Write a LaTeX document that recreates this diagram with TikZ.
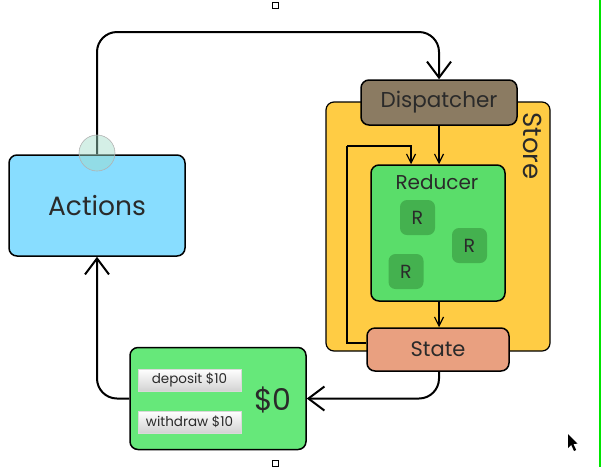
\documentclass[tikz,border=0pt]{standalone}
\usepackage{fontspec}
\setmainfont{Poppins}
\usetikzlibrary{arrows.meta}
\definecolor{actblue}{HTML}{88DDFF}
\definecolor{storeyel}{HTML}{FFCC44}
\definecolor{redgreen}{HTML}{5ADD6A}
\definecolor{rgreen}{HTML}{44B14F}
\definecolor{statesal}{HTML}{E9A080}
\definecolor{dispbrown}{HTML}{8B7B62}
\definecolor{moneygreen}{HTML}{66E87A}
\definecolor{txt}{HTML}{2A2A2A}
\begin{document}
\begin{tikzpicture}[x=1pt,y=-1pt,
  box/.style={draw=black,line width=1.5pt,rounded corners=8pt,inner sep=0pt,text=txt},
  rbox/.style={fill=rgreen,rounded corners=7pt,minimum width=35pt,minimum height=35pt,inner sep=0pt,font=\fontsize{19}{19}\selectfont,text=txt},
  btn/.style={draw=gray!30,top color=white,bottom color=gray!35,minimum width=103pt,minimum height=22pt,inner sep=0pt,font=\fontsize{13.5}{14}\selectfont,text=txt},
  big/.style={line width=2pt,-{Straight Barb[length=16pt,width=24pt,line width=2pt]}},
  small/.style={line width=1.2pt,-{Straight Barb[length=9pt,width=9pt,line width=1.2pt]}}]
\useasboundingbox (0,0) rectangle (601,467);
% decorations of the screen capture
\draw[line width=1pt] (272,2) rectangle (278,8);
\draw[line width=1pt] (272,460) rectangle (278,466);
\draw[green!90!black,line width=2pt] (599.5,0) -- (599.5,467);
\fill[black] (568,434) -- (568,448) -- (571.2,444.8) -- (574,451) -- (576.2,450) -- (573.4,444) -- (577.6,443.6) -- cycle;
% store
\node[box,line width=1.2pt,fill=storeyel,minimum width=224pt,minimum height=249pt] (store) at (438,226.5) {};
\node[text=txt,rotate=-90,font=\fontsize{26}{26}\selectfont] (storelbl) at (533,146) {Store};
% nodes
\node[box,fill=actblue,minimum width=176pt,minimum height=101pt,font=\fontsize{26.5}{26}\selectfont] (actions) at (97,205.5) {Actions};
\node[box,fill=dispbrown,minimum width=156pt,minimum height=45pt,font=\fontsize{21.5}{21}\selectfont] (disp) at (439,102.5) {Dispatcher};
\node[box,fill=redgreen,minimum width=134pt,minimum height=136pt] (reducer) at (438,233) {};
\node[text=txt,font=\fontsize{20}{20}\selectfont] (redlbl) at (437,182) {Reducer};
\node[rbox] (r1) at (417.5,217.5) {R};
\node[rbox] (r2) at (469.5,245.5) {R};
\node[rbox] (r3) at (406,271.5) {R};
\node[box,fill=statesal,minimum width=142pt,minimum height=43pt,font=\fontsize{21}{21}\selectfont] (state) at (438,349.5) {State};
\node[box,fill=moneygreen,minimum width=176pt,minimum height=102pt] (money) at (218,398.5) {};
\node[btn] (dep) at (189.5,380) {deposit \$10};
\node[btn] (wd) at (189.5,422) {withdraw \$10};
\node[text=txt,font=\fontsize{30}{30}\selectfont] (amount) at (273,400) {\$0};
% connectors
\coordinate (topy) at (0,32);
\draw[big,rounded corners=20pt] (actions.north) -- (actions.north |- topy) -| (disp.north);
\draw[small] (disp.south) -- (reducer.north -| disp.south);
\draw[small] (reducer.south -| disp.south) -- (state.north -| disp.south);
\coordinate (loopc) at (347,146);
\coordinate (loopt) at (411,165);
\draw[line width=1.2pt] ([yshift=6.5pt]state.west) -| (loopc);
\draw[small] (loopc) -| (reducer.north -| loopt);
\draw[big,rounded corners=20pt] (state.south -| disp.south) |- (money.east);
\draw[big,rounded corners=20pt] (money.west) -| (actions.south);
% pointer highlight
\draw[gray!60,fill={rgb,255:red,160;green,220;blue,200},fill opacity=0.45,line width=0.6pt] (97,153) circle (18pt);
\end{tikzpicture}
\end{document}
